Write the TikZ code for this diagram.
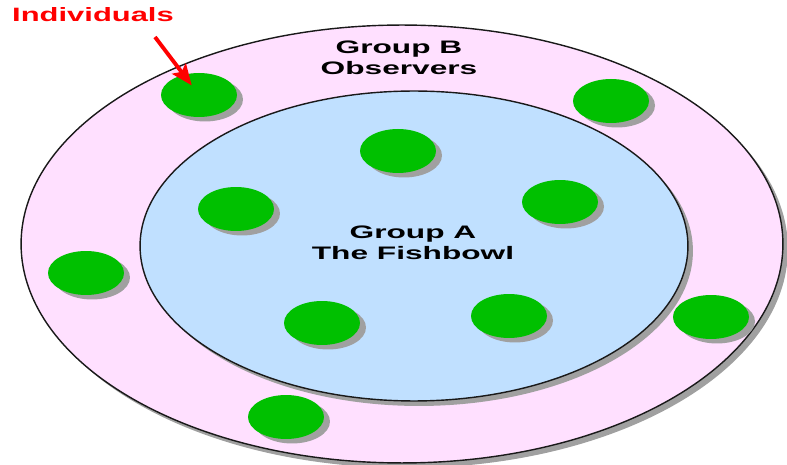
\documentclass[tikz,border=0pt]{standalone}
\usepackage{fontspec}
\setmainfont{Liberation Sans}
\newfontfamily\widesans[FakeStretch=1.75]{Liberation Sans}
\newfontfamily\tagsans[FakeStretch=1.6]{Liberation Sans}
\usepackage{tikz}
\usetikzlibrary{arrows.meta, shapes.geometric, shadows}

\definecolor{ringpink}{HTML}{FFE0FF}
\definecolor{bowlblue}{HTML}{C0E0FF}
\definecolor{persongreen}{HTML}{00C000}
\definecolor{shadowgray}{HTML}{A0A0A0}

\begin{document}
\begin{tikzpicture}[
			x=0.02cm, y=-0.02cm,
			castshadow/.style={
				drop shadow={shadow xshift=0.1cm, shadow yshift=-0.1cm, fill=shadowgray, opacity=1}
			},
			ring/.style={
				ellipse, draw=black!90, line width=0.8pt, inner sep=0pt, castshadow
			},
			person/.style={
				ellipse, fill=persongreen, inner sep=0pt,
				minimum width=1.52cm, minimum height=0.88cm,
				drop shadow={shadow xshift=0.12cm, shadow yshift=-0.09cm, fill=shadowgray, opacity=1}
			},
			caption/.style={
				font=\widesans\bfseries\fontsize{10.3}{12}\selectfont,
				align=center, inner sep=0pt
			},
			pointer/.style={
				-{Stealth[length=0.42cm, width=0.34cm, inset=0.08cm]},
				line width=2.2pt, red
			}
			]
			\useasboundingbox (0,0) rectangle (787,465);
			
			\node[ring, fill=ringpink, minimum width=15.24cm, minimum height=8.76cm] (groupB) at (402,244) {};
			\node[ring, fill=bowlblue, minimum width=10.96cm, minimum height=6.2cm] (groupA) at (414,246) {};
			
			\node[person] (ind1) at (199,95) {};
			\node[person] (ind2) at (611,101) {};
			\node[person] (ind3) at (398,151) {};
			\node[person] (ind4) at (236,209) {};
			\node[person] (ind5) at (560,202) {};
			\node[person] (ind6) at (86,273) {};
			\node[person] (ind7) at (322,323) {};
			\node[person] (ind8) at (509,316) {};
			\node[person] (ind9) at (711,317) {};
			\node[person] (ind10) at (286,417) {};
			
			\node[caption] (labelB) at (399,58) {Group B\\Observers};
			\node[caption] (labelA) at (413,243) {Group A\\The Fishbowl};
			\node[caption, font=\tagsans\bfseries\fontsize{11}{12}\selectfont, text=red] (tag) at (93,15) {Individuals};
			
			\coordinate (tail) at (155,37);
			\draw[pointer, shorten >=0.24cm] (tail) -- (ind1.center);
			
		\end{tikzpicture}
\end{document}
